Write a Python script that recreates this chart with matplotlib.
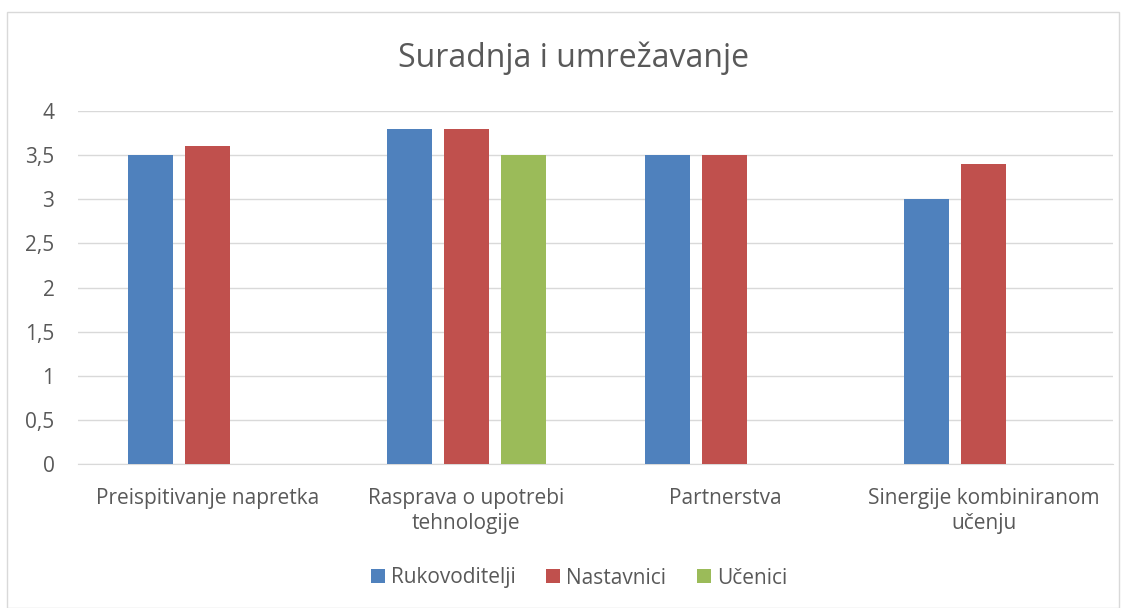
import numpy as np
import matplotlib.pyplot as plt
from matplotlib.patches import Rectangle

categories = ["Preispitivanje napretka", "Rasprava o upotrebi\ntehnologije",
              "Partnerstva", "Sinergije kombiniranom\nučenju"]
series_names = ["Rukovoditelji", "Nastavnici", "Učenici"]
rukovoditelji = [3.5, 3.8, 3.5, 3.0]
nastavnici = [3.6, 3.8, 3.5, 3.4]
ucenici = [np.nan, 3.5, np.nan, np.nan]
yticks = [0, 0.5, 1, 1.5, 2, 2.5, 3, 3.5, 4]
ytick_labels = ["0", "0,5", "1", "1,5", "2", "2,5", "3", "3,5", "4"]

colors = ["#4F81BD", "#C0504D", "#9BBB59"]
text_color = "#595959"
plt.rcParams['font.family'] = ['Open Sans', 'DejaVu Sans']

fig = plt.figure(figsize=(11.26, 6.08), dpi=100)
# light border round the chart area
fig.patches.append(Rectangle((7 / 1126, 0), 1112 / 1126, 1 - 12 / 608,
                             transform=fig.transFigure, fill=False,
                             edgecolor="#D9D9D9", linewidth=1))

ax = fig.add_axes([78 / 1126, 144 / 608, (1113 - 78) / 1126, (464 - 111) / 608])
x = np.arange(len(categories))
width = 0.174
step = 0.22
for i, (vals, name) in enumerate(zip([rukovoditelji, nastavnici, ucenici], series_names)):
    ax.bar(x + (i - 1) * step, vals, width, color=colors[i], label=name, zorder=3)

ax.set_xlim(-0.5, len(categories) - 0.5)
ax.set_ylim(0, 4)
ax.set_yticks(yticks)
ax.set_yticklabels(ytick_labels)
ax.set_xticks(x)
ax.set_xticklabels(categories, linespacing=1.3)
ax.grid(axis="y", color="#D9D9D9", linewidth=1, zorder=0)
for s in ["top", "right", "left"]:
    ax.spines[s].set_visible(False)
ax.spines["bottom"].set_color("#D9D9D9")
ax.tick_params(length=0, labelsize=15, colors=text_color)
ax.tick_params(axis="x", pad=17)
ax.tick_params(axis="y", pad=17)

fig.text(573.5 / 1126, 1 - 58 / 608, "Suradnja i umrežavanje", ha="center", va="center",
         fontsize=23, color=text_color)

fig.legend(loc="center", bbox_to_anchor=(579 / 1126, 1 - 578 / 608), ncol=3,
           frameon=False, fontsize=15, labelcolor=text_color,
           handlelength=0.67, handleheight=0.67, handletextpad=0.3, columnspacing=1.45)

fig.savefig("out.png", dpi=100)
